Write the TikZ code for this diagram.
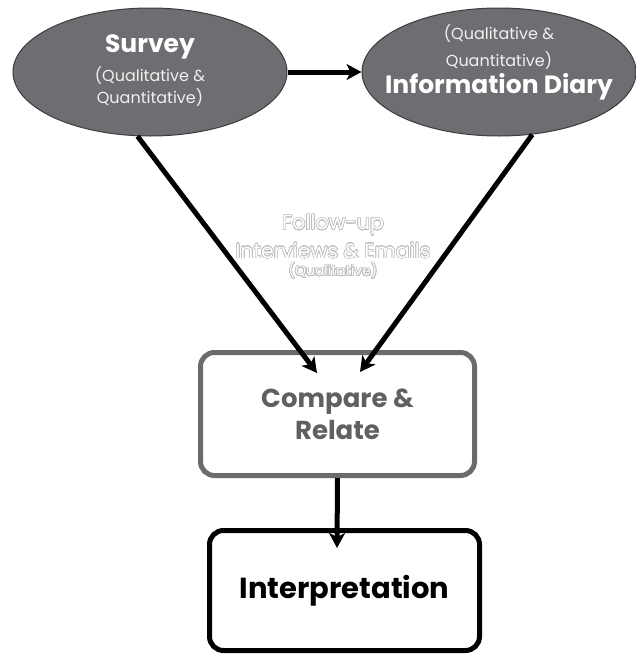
\documentclass[tikz,border=0pt]{standalone}
\usepackage{fontspec}
\setmainfont{Poppins}
\usepackage{contour}
\contourlength{0.6pt}
\contournumber{24}
\usetikzlibrary{arrows.meta,shapes.geometric}
\definecolor{ellfill}{HTML}{6D6E71}
\definecolor{ellline}{HTML}{3C3C3C}
\definecolor{cmpgray}{HTML}{6B6B6B}
\definecolor{cmptext}{HTML}{606060}
\definecolor{subwhite}{HTML}{F0F0F0}
\definecolor{outl}{HTML}{BEBEBE}
\newcommand{\outl}[1]{\contour{outl}{\color{white}#1}}
\begin{document}
\begin{tikzpicture}[x=1pt,y=-1pt,
  ell/.style={ellipse, draw=ellline, line width=1pt, fill=ellfill,
    minimum width=274pt, minimum height=128pt, inner sep=0pt},
  title/.style={font=\fontsize{25}{28}\selectfont\bfseries, inner sep=0pt},
  sub/.style={font=\fontsize{16}{22}\selectfont, text=subwhite, align=center, inner sep=0pt},
  cbox/.style={rectangle, rounded corners=14pt, draw=cmpgray, line width=5pt,
    minimum width=274pt, minimum height=123pt, text=cmptext, align=center,
    font=\fontsize{26}{32}\selectfont\bfseries},
  ibox/.style={rectangle, rounded corners=14pt, draw=black, line width=5pt,
    minimum width=270pt, minimum height=120pt, text=black,
    font=\fontsize{29}{32}\selectfont\bfseries},
  fuA/.style={font=\fontsize{20.5}{22}\selectfont, inner sep=0pt},
  fuB/.style={font=\fontsize{14}{16}\selectfont, inner sep=0pt},
  arr/.style={line width=5pt, -{Stealth[length=15pt,width=16pt,inset=4pt]}}
]
\useasboundingbox (0,0) rectangle (636,656);
% boxes
\node[cbox] (compare) at (337.5,414) {Compare \&\\Relate};
\node[ibox] (interp) at (344.5,590.5) {Interpretation};
% ellipses
\node[ell] (survey) at (150,72) {};
\node[ell] (diary) at (499,72) {};
% ellipse texts
\node[title, text=white] (surveyT) at (150,47) {Survey};
\node[sub, font=\fontsize{16}{22}\selectfont] (surveyS) at (150,87) {(Qualitative \&\\Quantitative)};
\node[sub, font=\fontsize{16}{27}\selectfont] (diaryS) at (499,47) {(Qualitative \&\\Quantitative)};
\node[title, text=white] (diaryT) at (499,87) {Information Diary};
% follow-up text
\node[fuA] (fu1) at (333,225) {\outl{Follow-up}};
\node[fuA] (fu2) at (333,251) {\outl{Interviews \& Emails}};
\node[fuB] (fu3) at (333,271) {\outl{(Qualitative)}};
% arrow end points
\coordinate (t1) at (317,373);
\coordinate (t2) at (360,372);
\coordinate (t3) at (337,548);
% connectors
\draw[arr] (survey) -- (diary);
\draw[arr] (survey.259) -- (t1);
\draw[arr] (diary.298) -- (t2);
\draw[arr] (compare.south) -- (t3);
\end{tikzpicture}
\end{document}
